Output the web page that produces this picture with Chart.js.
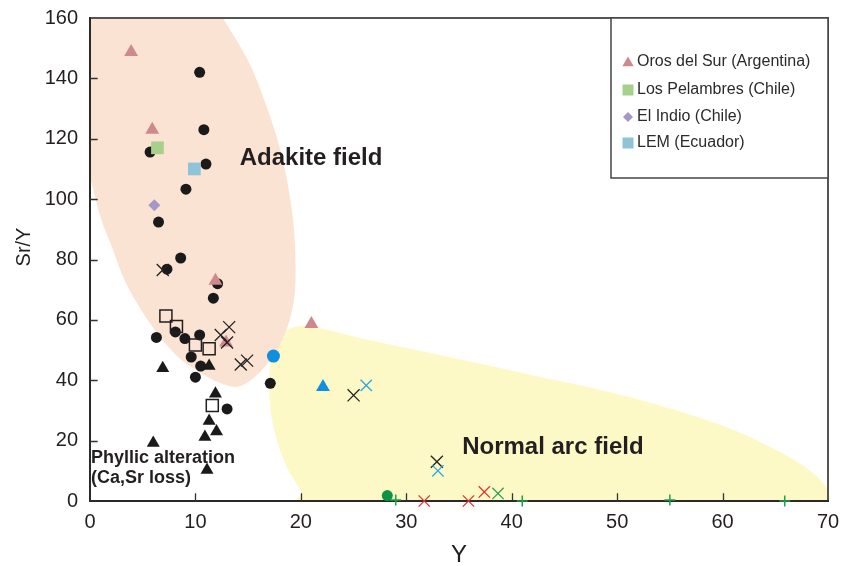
<!DOCTYPE html>
<html>
<head>
<meta charset="utf-8">
<script src="https://cdn.jsdelivr.net/npm/chart.js@4/dist/chart.umd.min.js"></script>
<style>
html,body{margin:0;padding:0;background:#fff;}
#wrap{width:842px;height:566px;}
</style>
</head>
<body>
<div id="wrap"><canvas id="c" width="842" height="566"></canvas></div>
<script>
// ---- data (x = Y ppm, y = Sr/Y) ----
const blackCircles = [[5.7,115.6],[10.4,142],[10.8,123],[11.0,111.6],[9.1,103.3],[6.5,92.4],[8.6,80.5],[7.3,76.8],[12.1,72],[11.7,67.2],[6.3,54.2],[8.1,56],[9.0,53.8],[10.4,55],[9.6,47.7],[10.5,44.7],[10.0,41],[17.1,39],[13.0,30.5]];
const blackTriangles = [[6.9,44],[11.3,44.7],[11.9,35.5],[11.3,26.5],[12.0,23],[10.9,21.2],[6.0,19.2],[11.1,10.3]];
const openSquares = [[7.2,61.3],[8.2,57.8],[10.0,51.7],[11.3,50.4],[11.6,31.6]];
const blackCrosses = [[6.9,76.5],[13.2,57.6],[12.4,55],[13.0,52.5],[14.3,45.2],[14.9,46.5],[25.0,35],[32.9,13]];
const orosDelSur = [[3.9,148.7],[5.9,123],[11.9,73],[12.9,52.5],[21.0,58.6]];
const losPelambres = [[6.4,117]];
const elIndio = [[6.1,98]];
const lem = [[9.9,110]];
const blueCircles = [[17.4,48]];
const blueTriangles = [[22.1,37.8]];
const blueCrosses = [[26.2,38.3],[33.0,10]];
const greenCircles = [[28.2,1.8]];
const greenPlus = [[29.0,0.3],[41.0,0],[55.0,0.3],[65.9,0]];
const redCrosses = [[31.7,0],[35.9,0],[37.4,3]];
const greenCrosses = [[38.7,2.5]];

const xTicks = [0,10,20,30,40,50,60,70];
const yTicks = [0,20,40,60,80,100,120,140,160];

const legendLabels = ['Oros del Sur (Argentina)','Los Pelambres (Chile)','El Indio (Chile)','LEM (Ecuador)'];
const fieldLabels = ['Adakite field','Normal arc field'];
const phyllicLabels = ['Phyllic alteration','(Ca,Sr loss)'];

// field outlines (data units)
const adakiteOutline = [[-2,175],[10.5,172],[12.6,160],[14.5,149],[15.9,138.7],[18.0,117],[19.2,95],[19.5,75],[19.1,62],[17.9,51],[16.2,43],[14.2,38],[12.2,39.3],[9.6,44.4],[7.7,50],[5.3,60.9],[3.4,72.2],[2.2,83.1],[1.0,94],[0.1,106],[-1.5,125],[-3,150]];
const arcOutline = [[18.3,55.3],[19.6,57.8],[21.5,57.5],[26.5,53.3],[33,48.5],[40.5,42.8],[51.1,34.5],[59.8,25.2],[65.1,16.9],[68.6,9.3],[70.4,2],[71.5,-4],[45,-5],[21.6,-3],[20.0,3.5],[18.5,12.5],[17.4,24.5],[17.0,35.8],[17.2,47]];

const FONT = '"Liberation Sans", Arial, Helvetica, sans-serif';
const pts = a => a.map(([x,y]) => ({x, y}));

function ds(label, data, style, radius, fill, stroke, bw) {
  return {label, data: pts(data), pointStyle: style, pointRadius: radius, pointHoverRadius: radius,
    backgroundColor: fill, borderColor: stroke, borderWidth: bw, clip: false, showLine: false};
}

const datasets = [
  ds('blueX', blueCrosses, 'crossRot', 8, '#2ea8e0', '#2ea8e0', 1.3),
  ds('blackX', blackCrosses, 'crossRot', 8.5, '#222', '#222', 1.3),
  ds('redX', redCrosses, 'crossRot', 8, '#e0342f', '#e0342f', 1.3),
  ds('greenX', greenCrosses, 'crossRot', 8, '#2f9f55', '#2f9f55', 1.3),
  ds('greenPlus', greenPlus, 'cross', 5.5, '#1f9e4c', '#1f9e4c', 1.5),
  ds(legendLabels[0], orosDelSur, 'triangle', 8, '#cf888c', '#cf888c', 0),
  ds(legendLabels[1], losPelambres, 'rect', 9, '#a8d08d', '#a8d08d', 0),
  ds(legendLabels[2], elIndio, 'rectRot', 6, '#a597c9', '#a597c9', 0),
  ds(legendLabels[3], lem, 'rect', 9, '#8ec4d7', '#8ec4d7', 0),
  ds('blueCircle', blueCircles, 'circle', 6.5, '#0f8fe0', '#0f8fe0', 0),
  ds('blueTriangle', blueTriangles, 'triangle', 8, '#0f8fe0', '#0f8fe0', 0),
  ds('greenCircle', greenCircles, 'circle', 5.5, '#0b9444', '#0b9444', 0),
  ds('openSquares', openSquares, 'rect', 8.5, 'rgba(0,0,0,0)', '#231f20', 1.5),
  ds('blackTriangles', blackTriangles, 'triangle', 7.5, '#1a1a1a', '#1a1a1a', 0),
  ds('blackCircles', blackCircles, 'circle', 5.5, '#1a1a1a', '#1a1a1a', 0)
];

function splinePath(ctx, p) {
  const n = p.length;
  ctx.beginPath();
  ctx.moveTo(p[0][0], p[0][1]);
  for (let i = 0; i < n; i++) {
    const p0 = p[(i - 1 + n) % n], p1 = p[i], p2 = p[(i + 1) % n], p3 = p[(i + 2) % n];
    ctx.bezierCurveTo(p1[0] + (p2[0] - p0[0]) / 6, p1[1] + (p2[1] - p0[1]) / 6,
                      p2[0] - (p3[0] - p1[0]) / 6, p2[1] - (p3[1] - p1[1]) / 6, p2[0], p2[1]);
  }
  ctx.closePath();
}

function drawMarker(ctx, style, x, y, r, color) {
  ctx.fillStyle = color;
  ctx.beginPath();
  if (style === 'triangle') {
    ctx.moveTo(x, y - r);
    ctx.lineTo(x + r * 0.866, y + r * 0.5);
    ctx.lineTo(x - r * 0.866, y + r * 0.5);
  } else if (style === 'rect') {
    const s = r * Math.SQRT1_2;
    ctx.rect(x - s, y - s, 2 * s, 2 * s);
  } else if (style === 'rectRot') {
    ctx.moveTo(x, y - r); ctx.lineTo(x + r, y); ctx.lineTo(x, y + r); ctx.lineTo(x - r, y);
  }
  ctx.closePath();
  ctx.fill();
}

const fieldsPlugin = {
  id: 'fields',
  beforeDatasetsDraw(chart) {
    const {ctx, chartArea: a, scales: {x, y}} = chart;
    const toPx = o => o.map(([dx, dy]) => [x.getPixelForValue(dx), y.getPixelForValue(dy)]);
    ctx.save();
    ctx.beginPath();
    ctx.rect(a.left, a.top, a.right - a.left, a.bottom - a.top);
    ctx.clip();
    splinePath(ctx, toPx(arcOutline));
    ctx.fillStyle = '#fdf9c6';
    ctx.fill();
    splinePath(ctx, toPx(adakiteOutline));
    ctx.fillStyle = '#fbe3d3';
    ctx.fill();
    ctx.restore();

    // frame
    ctx.save();
    ctx.lineCap = 'square';
    ctx.strokeStyle = '#555';
    ctx.lineWidth = 2;
    ctx.beginPath();
    ctx.moveTo(a.left, a.top); ctx.lineTo(a.right, a.top); ctx.lineTo(a.right, a.bottom);
    ctx.stroke();
    ctx.strokeStyle = '#2a2a2a';
    ctx.beginPath();
    ctx.moveTo(a.left, a.top); ctx.lineTo(a.left, a.bottom); ctx.lineTo(a.right, a.bottom);
    ctx.stroke();
    // inward ticks
    ctx.lineWidth = 1.3;
    ctx.strokeStyle = '#333';
    ctx.beginPath();
    xTicks.slice(1, -1).forEach(v => {
      const px = Math.round(x.getPixelForValue(v)) + 0.5;
      ctx.moveTo(px, a.bottom); ctx.lineTo(px, a.bottom - 7);
    });
    yTicks.slice(1, -1).forEach(v => {
      const py = Math.round(y.getPixelForValue(v)) + 0.5;
      ctx.moveTo(a.left, py); ctx.lineTo(a.left + 7, py);
    });
    ctx.stroke();
    ctx.restore();
  },
  afterDatasetsDraw(chart) {
    const {ctx, chartArea: a, scales: {x, y}} = chart;
    ctx.save();
    ctx.fillStyle = '#231f20';
    ctx.textBaseline = 'middle';
    ctx.textAlign = 'left';
    ctx.font = 'bold 24px ' + FONT;
    ctx.fillText(fieldLabels[0], x.getPixelForValue(14.2), y.getPixelForValue(113.6));
    ctx.fillText(fieldLabels[1], x.getPixelForValue(35.3), y.getPixelForValue(17.9));
    ctx.font = 'bold 18px ' + FONT;
    ctx.fillText(phyllicLabels[0], a.left + 1, y.getPixelForValue(14.1));
    ctx.fillText(phyllicLabels[1], a.left + 1, y.getPixelForValue(7.5));

    // axis titles
    ctx.font = '24px ' + FONT;
    ctx.textAlign = 'center';
    ctx.fillText('Y', (a.left + a.right) / 2, 555);
    ctx.save();
    ctx.translate(24, 247);
    ctx.rotate(-Math.PI / 2);
    ctx.font = '20px ' + FONT;
    ctx.fillText('Sr/Y', 0, 0);
    ctx.restore();

    // legend box
    const bl = a.right - 217, bt = a.top, bb = a.top + 160;
    ctx.fillStyle = '#fff';
    ctx.fillRect(bl, bt, a.right - bl, bb - bt);
    ctx.strokeStyle = '#444';
    ctx.lineWidth = 1.5;
    ctx.strokeRect(bl, bt, a.right - bl, bb - bt);
    const rows = [44, 72, 99, 125];
    const items = [datasets[5], datasets[6], datasets[7], datasets[8]];
    const sizes = [6.5, 7.8, 5, 7.8];
    items.forEach((d, i) => {
      const cy = bt + rows[i];
      drawMarker(ctx, d.pointStyle, bl + 17, cy + (d.pointStyle === 'triangle' ? 1 : 0), sizes[i], d.backgroundColor);
      ctx.fillStyle = '#2b2b2b';
      ctx.font = '16px ' + FONT;
      ctx.textAlign = 'left';
      ctx.textBaseline = 'middle';
      ctx.fillText(d.label, bl + 26, cy);
    });
    ctx.restore();
  }
};

new Chart(document.getElementById('c'), {
  type: 'scatter',
  data: {datasets},
  options: {
    responsive: false,
    animation: false,
    events: [],
    layout: {padding: {left: 0, right: 14, top: 18, bottom: 0}},
    plugins: {legend: {display: false}, tooltip: {enabled: false}},
    scales: {
      x: {
        type: 'linear', min: 0, max: 70,
        afterBuildTicks: s => { s.ticks = xTicks.map(v => ({value: v})); },
        ticks: {font: {size: 20, family: FONT}, color: '#231f20', padding: 9, maxRotation: 0, autoSkip: false},
        grid: {display: false, drawTicks: false},
        border: {display: false},
        afterFit: s => { s.height = 65; s.paddingLeft = 0; s.paddingRight = 0; }
      },
      y: {
        type: 'linear', min: 0, max: 160,
        afterBuildTicks: s => { s.ticks = yTicks.map(v => ({value: v})); },
        ticks: {font: {size: 20, family: FONT}, color: '#231f20', padding: 12, autoSkip: false},
        grid: {display: false, drawTicks: false},
        border: {display: false},
        afterFit: s => { s.width = 90; s.paddingTop = 0; s.paddingBottom = 0; }
      }
    }
  },
  plugins: [fieldsPlugin]
});
</script>
</body>
</html>
